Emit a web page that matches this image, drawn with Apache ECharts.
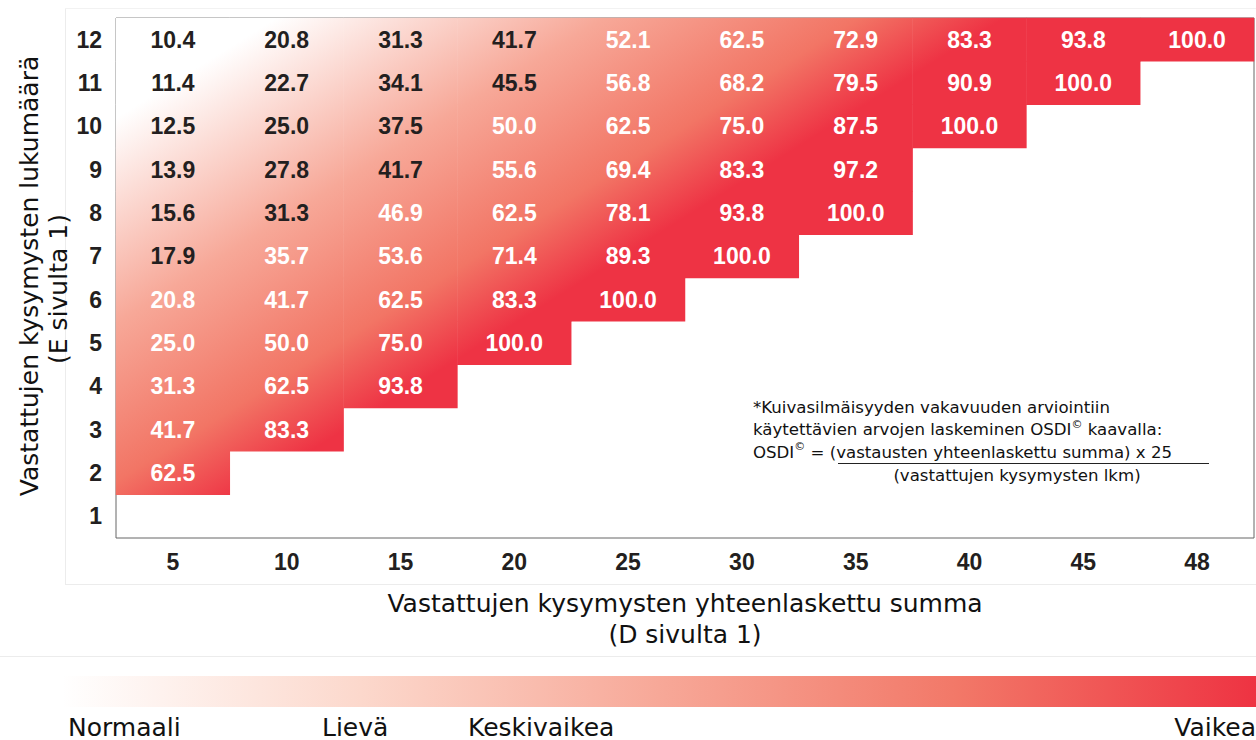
<!DOCTYPE html>
<html>
<head>
<meta charset="utf-8">
<script src="https://cdn.jsdelivr.net/npm/echarts@6/dist/echarts.min.js"></script>
<style>html,body{margin:0;padding:0;background:#fff}#chart{width:1256px;height:740px}</style>
</head>
<body>
<div id="chart"></div>
<script>
// Summa (x) and answered-question count (y) categories
const xCategories = ['5', '10', '15', '20', '25', '30', '35', '40', '45', '48'];
const yCategories = ['1', '2', '3', '4', '5', '6', '7', '8', '9', '10', '11', '12'];

// OSDI values per row (y category), left to right along xCategories
const row12 = [10.4, 20.8, 31.3, 41.7, 52.1, 62.5, 72.9, 83.3, 93.8, 100.0];
const row11 = [11.4, 22.7, 34.1, 45.5, 56.8, 68.2, 79.5, 90.9, 100.0];
const row10 = [12.5, 25.0, 37.5, 50.0, 62.5, 75.0, 87.5, 100.0];
const row9  = [13.9, 27.8, 41.7, 55.6, 69.4, 83.3, 97.2];
const row8  = [15.6, 31.3, 46.9, 62.5, 78.1, 93.8, 100.0];
const row7  = [17.9, 35.7, 53.6, 71.4, 89.3, 100.0];
const row6  = [20.8, 41.7, 62.5, 83.3, 100.0];
const row5  = [25.0, 50.0, 75.0, 100.0];
const row4  = [31.3, 62.5, 93.8];
const row3  = [41.7, 83.3];
const row2  = [62.5];
const row1  = [];

const rows = { '1': row1, '2': row2, '3': row3, '4': row4, '5': row5, '6': row6,
  '7': row7, '8': row8, '9': row9, '10': row10, '11': row11, '12': row12 };

const severityLabels = ['Normaali', 'Lievä', 'Keskivaikea', 'Vaikea'];

const NUM_FONT = "'Liberation Sans', Arial, sans-serif";
const TXT_FONT = "'DejaVu Sans', Verdana, sans-serif";
const DARK = '#231f20';

const data = [];
yCategories.forEach(function (yc, yi) {
  const vals = rows[yc];
  const depth = yCategories.length - 1 - yi; // distance from top row
  vals.forEach(function (v, xi) {
    const shade = depth + xi + Math.max(0, xi - 2);
    data.push({
      value: [xi, yi, v],
      label: { color: shade >= 6 ? '#ffffff' : DARK }
    });
  });
});

const cellGradient = new echarts.graphic.LinearGradient(161, 90, 365, 417, [
  { offset: 0, color: '#ffffff' },
  { offset: 0.45, color: '#f7a898' },
  { offset: 0.8, color: '#f27565' },
  { offset: 1, color: '#ee3344' }
], true);

const chart = echarts.init(document.getElementById('chart'), null, { renderer: 'svg' });

const option = {
  animation: false,
  backgroundColor: '#ffffff',
  grid: {
    left: 116, top: 18, width: 1138, height: 520,
    show: true, borderColor: '#666666', borderWidth: 1, backgroundColor: 'transparent'
  },
  xAxis: {
    type: 'category',
    data: xCategories,
    axisLine: { show: false },
    axisTick: { show: false },
    splitLine: { show: false },
    axisLabel: {
      margin: 12, fontFamily: NUM_FONT, fontWeight: 'bold', fontSize: 23, color: DARK
    },
    name: 'Vastattujen kysymysten yhteenlaskettu summa\n(D sivulta 1)',
    nameLocation: 'middle',
    nameGap: 50,
    nameTextStyle: { fontFamily: TXT_FONT, fontSize: 25, color: '#111111', lineHeight: 31 }
  },
  yAxis: {
    type: 'category',
    data: yCategories,
    axisLine: { show: false },
    axisTick: { show: false },
    splitLine: { show: false },
    axisLabel: {
      margin: 14, fontFamily: NUM_FONT, fontWeight: 'bold', fontSize: 23, color: DARK
    }
  },
  series: [{
    type: 'heatmap',
    data: data,
    itemStyle: { color: cellGradient },
    label: {
      show: true,
      fontFamily: NUM_FONT, fontWeight: 'bold', fontSize: 23,
      formatter: function (p) { return p.value[2].toFixed(1); }
    },
    emphasis: { disabled: true }
  }],
  graphic: [
    // faint frame lines
    { type: 'line', shape: { x1: 65.5, y1: 8, x2: 65.5, y2: 584 }, style: { stroke: '#ececec', lineWidth: 1 } },
    { type: 'line', shape: { x1: 65, y1: 8.5, x2: 1256, y2: 8.5 }, style: { stroke: '#f2f2f2', lineWidth: 1 } },
    { type: 'line', shape: { x1: 65, y1: 584.5, x2: 1256, y2: 584.5 }, style: { stroke: '#ececec', lineWidth: 1 } },
    { type: 'line', shape: { x1: 0, y1: 656.5, x2: 1256, y2: 656.5 }, style: { stroke: '#ececec', lineWidth: 1 } },
    // y axis name (two lines, rotated)
    { type: 'text', x: 29, y: 276, rotation: Math.PI / 2,
      style: { text: 'Vastattujen kysymysten lukumäärä', font: '25px ' + TXT_FONT, fill: '#111111', align: 'center', verticalAlign: 'middle' } },
    { type: 'text', x: 58, y: 289, rotation: Math.PI / 2,
      style: { text: '(E sivulta 1)', font: '25px ' + TXT_FONT, fill: '#111111', align: 'center', verticalAlign: 'middle' } },
    // annotation
    { type: 'text', x: 753, y: 396,
      style: {
        text: '*Kuivasilmäisyyden vakavuuden arviointiin\nkäytettävien arvojen laskeminen OSDI{sup|©} kaavalla:\nOSDI{sup|©} = (vastausten yhteenlaskettu summa) x 25',
        font: '16.6px ' + TXT_FONT, fill: '#111111', lineHeight: 22.5,
        rich: { sup: { fontSize: 11, fontFamily: TXT_FONT, fill: '#111111', verticalAlign: 'top', padding: [0, 0, 7, 0] } }
      } },
    { type: 'line', shape: { x1: 838, y1: 463.5, x2: 1209, y2: 463.5 }, style: { stroke: '#222222', lineWidth: 1 } },
    { type: 'text', x: 1017, y: 467,
      style: { text: '(vastattujen kysymysten lkm)', font: '16.6px ' + TXT_FONT, fill: '#111111', align: 'center' } },
    // severity gradient bar
    { type: 'rect', shape: { x: 62, y: 676, width: 1194, height: 31 },
      style: { fill: new echarts.graphic.LinearGradient(0, 0, 1, 0, [
        { offset: 0, color: '#ffffff' },
        { offset: 0.25, color: '#fcd8cc' },
        { offset: 0.5, color: '#f7a898' },
        { offset: 0.75, color: '#f27868' },
        { offset: 1, color: '#ee3342' }
      ]) } },
    { type: 'text', x: 68, y: 727, style: { text: severityLabels[0], font: '25px ' + TXT_FONT, fill: '#111111', verticalAlign: 'middle' } },
    { type: 'text', x: 322, y: 727, style: { text: severityLabels[1], font: '25px ' + TXT_FONT, fill: '#111111', verticalAlign: 'middle' } },
    { type: 'text', x: 468, y: 727, style: { text: severityLabels[2], font: '25px ' + TXT_FONT, fill: '#111111', verticalAlign: 'middle' } },
    { type: 'text', x: 1256, y: 727, style: { text: severityLabels[3], font: '25px ' + TXT_FONT, fill: '#111111', align: 'right', verticalAlign: 'middle' } }
  ]
};

chart.setOption(option);
</script>
</body>
</html>
